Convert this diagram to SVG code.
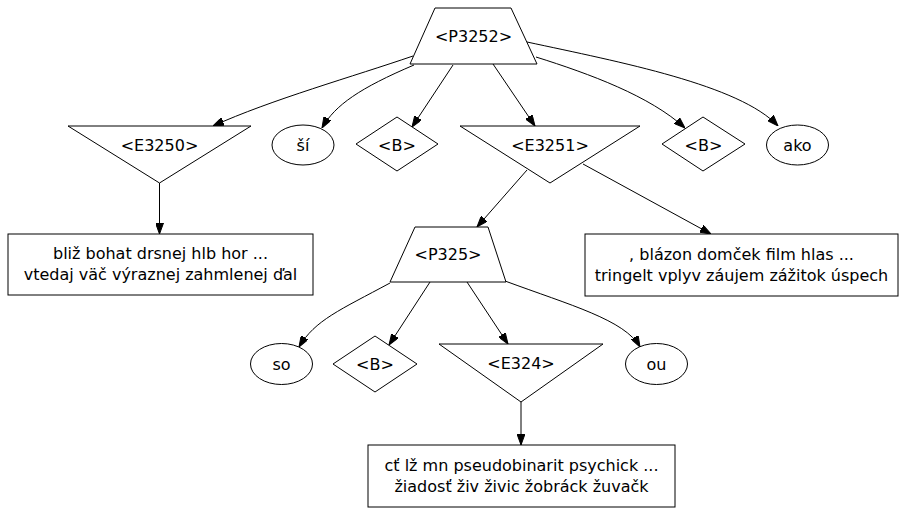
<svg xmlns="http://www.w3.org/2000/svg" width="906" height="509" viewBox="0 0 906 509">
<defs>
<marker id="ah" markerWidth="11" markerHeight="8" refX="11" refY="4" orient="auto" markerUnits="userSpaceOnUse">
<path d="M0,0 L11,4 L0,8 z" fill="#000" stroke="#000" stroke-width="1"/>
</marker>
<style>
.n{fill:#fff;stroke:#000;stroke-width:1}
.t{font-family:"DejaVu Sans","Noto Sans",sans-serif;font-size:16px;text-anchor:middle;fill:#000}
.e{fill:none;stroke:#000;stroke-width:1;marker-end:url(#ah)}
</style>
</defs>
<rect width="906" height="509" fill="#fff"/>
<g id="edges">
<path class="e" d="M413,56 C355,76 270,100 213,126"/>
<path class="e" d="M414,65 C360,88 335,105 322,128"/>
<path class="e" d="M453,65 L412,127"/>
<path class="e" d="M493,64 L535,126"/>
<path class="e" d="M536,57 C590,74 650,96 685,128"/>
<path class="e" d="M527,42 C620,62 740,85 778,126"/>
<path class="e" d="M159.5,183 L159.5,234"/>
<path class="e" d="M527,170 L477,227"/>
<path class="e" d="M583,164 L711,234"/>
<path class="e" d="M390,283 C340,310 315,320 299,347"/>
<path class="e" d="M430,282 L389,345"/>
<path class="e" d="M467,282 L508,344"/>
<path class="e" d="M505,281 C570,305 625,320 640,347"/>
<path class="e" d="M521,402 L521,445"/>
</g>
<g id="P3252"><polygon class="n" points="435,8 511,8 537,64 410,64"/><text class="t" x="473.5" y="42">&lt;P3252&gt;</text></g>
<g id="E3250"><polygon class="n" points="68,126 251,126 159.5,183"/><text class="t" x="159.5" y="150.5">&lt;E3250&gt;</text></g>
<g id="si"><ellipse class="n" cx="303" cy="145" rx="31" ry="20"/><text class="t" x="303" y="150.5">ší</text></g>
<g id="B1"><polygon class="n" points="397,117 438,144 397,171 356,144"/><text class="t" x="397" y="150.5">&lt;B&gt;</text></g>
<g id="E3251"><polygon class="n" points="460,126 640,126 550,183"/><text class="t" x="550" y="150.5">&lt;E3251&gt;</text></g>
<g id="B2"><polygon class="n" points="703,117 745,144 703,171 662,144"/><text class="t" x="703.5" y="150.5">&lt;B&gt;</text></g>
<g id="ako"><ellipse class="n" cx="797.5" cy="145" rx="31" ry="20"/><text class="t" x="797.5" y="150.5">ako</text></g>
<g id="box1"><rect class="n" x="8" y="234" width="305" height="61"/><text class="t" x="160.5" y="259">bliž bohat drsnej hlb hor ...</text><text class="t" x="160.5" y="280">vtedaj väč výraznej zahmlenej ďal</text></g>
<g id="box2"><rect class="n" x="585" y="234" width="313" height="62"/><text class="t" x="741.5" y="259.5">, blázon domček film hlas ...</text><text class="t" x="741.5" y="280.5">tringelt vplyv záujem zážitok úspech</text></g>
<g id="P325"><polygon class="n" points="415,227 488,227 506,282 390,282"/><text class="t" x="448" y="260">&lt;P325&gt;</text></g>
<g id="so"><ellipse class="n" cx="281.5" cy="364" rx="31" ry="20.5"/><text class="t" x="281.5" y="369.5">so</text></g>
<g id="B3"><polygon class="n" points="375,336 417,364 375,392 333,364"/><text class="t" x="375" y="369.5">&lt;B&gt;</text></g>
<g id="E324"><polygon class="n" points="439,344 603,344 521,402"/><text class="t" x="521" y="369">&lt;E324&gt;</text></g>
<g id="ou"><ellipse class="n" cx="656.5" cy="364" rx="31" ry="20.5"/><text class="t" x="656.5" y="369.5">ou</text></g>
<g id="box3"><rect class="n" x="368" y="445" width="307" height="62"/><text class="t" x="521.5" y="471">cť lž mn pseudobinarit psychick ...</text><text class="t" x="521.5" y="492">žiadosť živ živic žobráck žuvačk</text></g>
</svg>
